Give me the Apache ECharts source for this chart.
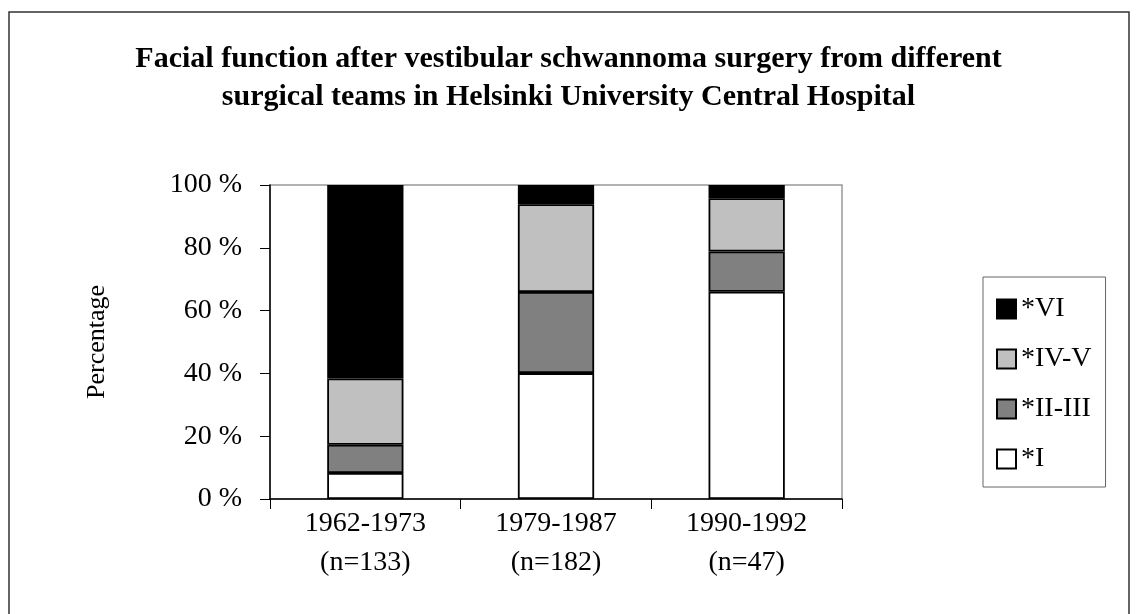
<!DOCTYPE html>
<html>
<head>
<meta charset="utf-8">
<script src="https://cdn.jsdelivr.net/npm/echarts@6/dist/echarts.min.js"></script>
<style>
html, body { margin: 0; padding: 0; background: #fff; }
#main { width: 1137px; height: 614px; }
</style>
</head>
<body>
<div id="main"></div>
<script>
// periods and number of patients
var periods = ['1962-1973', '1979-1987', '1990-1992'];
var patients = [133, 182, 47];
// percentages per grade
var gradeI = [8.3, 40.1, 66.0];
var gradeIIIII = [9.0, 25.8, 12.8];
var gradeIVV = [21.1, 28.0, 17.0];
var gradeVI = [61.6, 6.1, 4.2];
var yTicks = [0, 20, 40, 60, 80, 100];

var serif = 'Liberation Serif';
var dom = document.getElementById('main');
var myChart = echarts.init(dom);

var categories = [];
for (var i = 0; i < periods.length; i++) {
    categories.push(periods[i] + '\n(n=' + patients[i] + ')');
}

function barSeries(name, data, color) {
    return {
        name: name,
        type: 'bar',
        stack: 'all',
        barWidth: '40%',
        data: data,
        itemStyle: { color: color, borderColor: '#000', borderWidth: 1.8 },
        emphasis: { disabled: true }
    };
}

var option = {
    animation: false,
    backgroundColor: '#fff',
    textStyle: { fontFamily: serif, color: '#000' },
    title: {
        text: 'Facial function after vestibular schwannoma surgery from different\nsurgical teams in Helsinki University Central Hospital',
        left: 'center',
        top: 35,
        textStyle: { fontFamily: serif, fontWeight: 'bold', fontSize: 30, lineHeight: 38, color: '#000' }
    },
    graphic: [{
        type: 'rect',
        shape: { x: 9, y: 12, width: 1120, height: 700 },
        style: { fill: 'none', stroke: '#333', lineWidth: 1.5 },
        silent: true
    }],
    legend: {
        orient: 'vertical',
        left: 983,
        top: 277,
        data: ['*VI', '*IV-V', '*II-III', '*I'],
        icon: 'rect',
        itemWidth: 19,
        itemHeight: 19,
        itemGap: 22,
        padding: [18, 14, 14, 13],
        borderColor: '#666',
        borderWidth: 1,
        backgroundColor: '#fff',
        textStyle: { fontFamily: serif, fontSize: 28, color: '#000' }
    },
    grid: {
        left: 270,
        right: 295,
        top: 185,
        bottom: 115,
        show: true,
        borderColor: '#999',
        borderWidth: 1.5,
        backgroundColor: 'transparent'
    },
    xAxis: {
        type: 'category',
        data: categories,
        axisLine: { lineStyle: { color: '#000', width: 1.5 } },
        axisTick: { show: true, length: 10, lineStyle: { color: '#000', width: 1 } },
        axisLabel: { fontFamily: serif, fontSize: 28, color: '#000', lineHeight: 39, margin: 5 }
    },
    yAxis: {
        type: 'value',
        min: yTicks[0],
        max: yTicks[yTicks.length - 1],
        interval: yTicks[1] - yTicks[0],
        name: 'Percentage',
        nameLocation: 'middle',
        nameRotate: 90,
        nameGap: 160,
        nameTextStyle: { fontFamily: serif, fontSize: 26, color: '#000' },
        axisLine: { show: true, lineStyle: { color: '#000', width: 1.5 } },
        axisTick: { show: true, length: 10, lineStyle: { color: '#000', width: 1 } },
        axisLabel: { fontFamily: serif, fontSize: 28, color: '#000', margin: 28, formatter: '{value} %' },
        splitLine: { show: false }
    },
    series: [
        barSeries('*I', gradeI, '#ffffff'),
        barSeries('*II-III', gradeIIIII, '#808080'),
        barSeries('*IV-V', gradeIVV, '#c0c0c0'),
        barSeries('*VI', gradeVI, '#000000')
    ]
};

if (option && typeof option === 'object') {
    myChart.setOption(option, true);
}
</script>
</body>
</html>
